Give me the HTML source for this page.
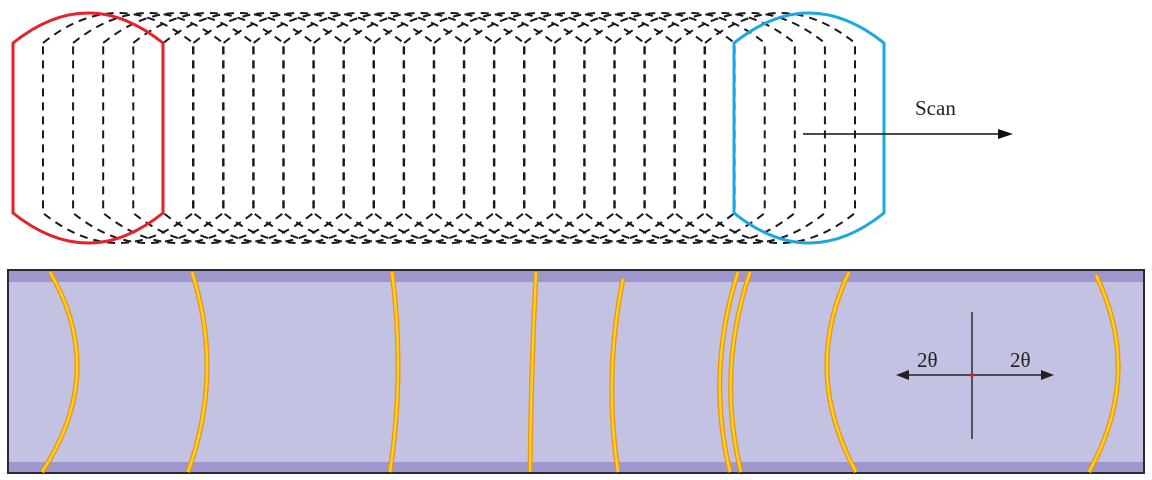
<!DOCTYPE html>
<html><head><meta charset="utf-8"><style>
html,body{margin:0;padding:0;background:#fff;width:1152px;height:480px;overflow:hidden}
svg{display:block}
text{font-family:"Liberation Serif",serif}
</style></head><body>
<svg id="fig" width="1152" height="480" viewBox="0 0 1152 480" xmlns="http://www.w3.org/2000/svg">
<g id="topframes"></g>
<g>
<line x1="803" y1="134" x2="1000" y2="134" stroke="#111" stroke-width="1.6"/>
<polygon points="1013,134 998,129 998,139" fill="#111"/>
</g>
<text x="915" y="115" font-size="21" fill="#222">Scan</text>
<g>
<rect x="8" y="270" width="1136" height="203" fill="#c4c2e2" stroke="#2a2a35" stroke-width="2"/>
<rect x="9" y="271" width="1134" height="11" fill="#9d97cd"/>
<rect x="9" y="462" width="1134" height="10" fill="#9d97cd"/>
</g>
<g id="rings"></g>
<g>
<line x1="972" y1="312" x2="972" y2="439" stroke="#222" stroke-width="1.4"/>
<line x1="906" y1="375" x2="1044" y2="375" stroke="#222" stroke-width="1.4"/>
<polygon points="896,375 909,370 909,380" fill="#222"/>
<polygon points="1054,375 1041,370 1041,380" fill="#222"/>
<circle cx="972" cy="375" r="2" fill="#e02020"/>
<text x="917" y="367" font-size="21" fill="#222">2θ</text>
<text x="1010" y="367" font-size="21" fill="#222">2θ</text>
</g>
</svg>
<script>
// frame left-edge offsets (dashed intermediate frames)
const frameStart = 43, frameEnd = 705, frameCount = 23;
// ring data: top x, middle x, bottom x
const ringTop = [50, 192, 392, 536, 623, 738, 750, 849, 1096];
const ringMid = [77, 207, 398, 532, 612, 720, 731, 827, 1118];
const ringBot = [42, 188, 390, 530, 618, 730, 741, 856, 1089];
const ringY1 = [272, 272, 272, 272, 279, 272, 272, 272, 275];

const NS = "http://www.w3.org/2000/svg";
function framePath(x){
  const w = 150;
  return `M${x},43 Q${x+w/2},-17 ${x+w},43 L${x+w},213 Q${x+w/2},273 ${x},213 Z`;
}
const topGroup = document.getElementById('topframes');
for (let i = 0; i < frameCount; i++){
  const x = frameStart + (frameEnd - frameStart) * i / (frameCount - 1);
  const p = document.createElementNS(NS, 'path');
  p.setAttribute('d', framePath(x));
  p.setAttribute('fill', 'none');
  p.setAttribute('stroke', '#1a1a1a');
  p.setAttribute('stroke-width', '2');
  p.setAttribute('stroke-dasharray', '8 6');
  
  
  topGroup.appendChild(p);
}
const red = document.createElementNS(NS, 'path');
red.setAttribute('d', framePath(13));
red.setAttribute('fill', 'none'); red.setAttribute('stroke', '#e8202a'); red.setAttribute('stroke-width', '3');


topGroup.appendChild(red);
const blue = document.createElementNS(NS, 'path');
blue.setAttribute('d', framePath(734));
blue.setAttribute('fill', 'none'); blue.setAttribute('stroke', '#1aa8e0'); blue.setAttribute('stroke-width', '3');


topGroup.appendChild(blue);

const rings = document.getElementById('rings');
for (let i = 0; i < ringTop.length; i++){
  const y1 = ringY1[i], y2 = 472, ym = (y1 + y2) / 2;
  const cx = 2 * ringMid[i] - (ringTop[i] + ringBot[i]) / 2;
  const d = `M${ringTop[i]},${y1} Q${cx},${ym} ${ringBot[i]},${y2}`;
  const g = document.createElementNS(NS, 'g');
  
  
  const a = document.createElementNS(NS, 'path');
  a.setAttribute('d', d); a.setAttribute('fill', 'none'); a.setAttribute('stroke', '#e8941a'); a.setAttribute('stroke-width', '5');
  const b = document.createElementNS(NS, 'path');
  b.setAttribute('d', d); b.setAttribute('fill', 'none'); b.setAttribute('stroke', '#ffd21a'); b.setAttribute('stroke-width', '2.4');
  g.appendChild(a); g.appendChild(b);
  rings.appendChild(g);
}
</script>
</body></html>
